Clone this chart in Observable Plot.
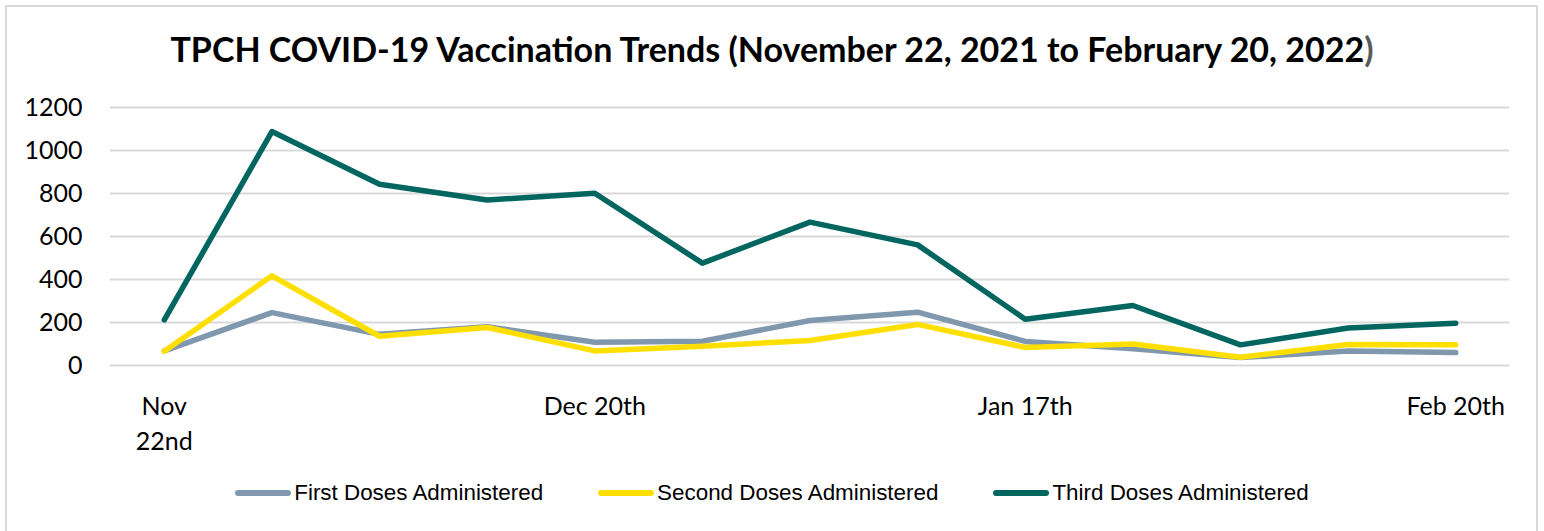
<!DOCTYPE html>
<html><head><meta charset="utf-8">
<script src="https://cdn.jsdelivr.net/npm/d3@7"></script>
<script src="https://cdn.jsdelivr.net/npm/@observablehq/plot@0.6"></script>
<style>
body{margin:0;background:#fff;}
#wrap{position:relative;width:1544px;height:531px;overflow:hidden;font-family:Lato,sans-serif;}
#frame{position:absolute;left:5px;top:5px;width:1533px;height:530px;border:2px solid #d9d9d9;box-sizing:border-box;}
#title{position:absolute;left:0;top:29px;width:1544px;text-align:center;font-family:Lato;font-weight:700;font-size:34px;line-height:40px;color:#000;white-space:nowrap;}
#title .paren{color:#595959;}
#chart{position:absolute;left:0;top:85px;}
#legend{position:absolute;top:480px;left:0;width:1544px;display:flex;justify-content:center;gap:55px;font-family:"Liberation Sans";font-size:22.4px;color:#000;}
.item{display:flex;align-items:center;}
.item svg{margin-right:3px;}
</style>
</head><body>
<div id="wrap">
  <div id="frame"></div>
  <div id="title">TPCH COVID-19 Vaccination Trends (November 22, 2021 to February 20, 2022<span class="paren">)</span></div>
  <div id="chart"></div>
  <div id="legend"></div>
</div>
<script>
// Weekly periods (index 0 = week of Nov 22, 2021 ... index 12 = week ending Feb 20, 2022)
const weeks = [0,1,2,3,4,5,6,7,8,9,10,11,12];
const tickWeeks = [0,4,8,12];
const tickLabels = ["Nov\n22nd","Dec 20th","Jan 17th","Feb 20th"];
const yTicks = [0,200,400,600,800,1000,1200];
const seriesNames = ["First Doses Administered","Second Doses Administered","Third Doses Administered"];
const seriesColors = ["#8098AE","#FFDF00","#00665F"];
const firstDoses  = [68, 246, 145, 180, 108, 113, 209, 248, 112, 78, 37, 67, 60];
const secondDoses = [66, 417, 136, 177, 68, 90, 116, 191, 84, 100, 38, 98, 96];
const thirdDoses  = [212, 1088, 843, 770, 801, 476, 667, 561, 215, 279, 96, 174, 197];

const seriesValues = [firstDoses, secondDoses, thirdDoses];
const data = [];
seriesNames.forEach((name, s) => {
  weeks.forEach((w, i) => data.push({series: name, week: w, value: seriesValues[s][i]}));
});

const chart = Plot.plot({
  width: 1544,
  height: 380,
  marginLeft: 110,
  marginRight: 35,
  marginTop: 22,
  marginBottom: 100,
  style: {fontFamily: "Lato", fontSize: "25px", color: "#000", background: "transparent", overflow: "visible"},
  x: {domain: [-0.5, 12.5], label: null},
  y: {domain: [0, 1200], label: null},
  color: {domain: seriesNames, range: seriesColors},
  marks: [
    Plot.ruleY(yTicks, {stroke: "#d9d9d9", strokeWidth: 2}),
    Plot.axisY({ticks: yTicks, tickFormat: d => String(d), tickSize: 0, tickPadding: 28, fontSize: 25, fill: "#000"}),
    Plot.axisX({ticks: tickWeeks, tickFormat: d => tickLabels[tickWeeks.indexOf(d)], tickSize: 0, tickPadding: 25, fontSize: 25, lineHeight: 1.4, fill: "#000"}),
    Plot.line(data, {x: "week", y: "value", z: "series", stroke: "series", strokeWidth: 5.5, strokeLinecap: "round", strokeLinejoin: "round"})
  ]
});
document.getElementById("chart").appendChild(chart);

const legend = document.getElementById("legend");
seriesNames.forEach((name, i) => {
  const item = document.createElement("div");
  item.className = "item";
  item.innerHTML = `<svg width="56" height="12"><line x1="3" y1="6" x2="53" y2="6" stroke="${seriesColors[i]}" stroke-width="6" stroke-linecap="round"/></svg><span>${name}</span>`;
  legend.appendChild(item);
});
</script>
</body></html>
